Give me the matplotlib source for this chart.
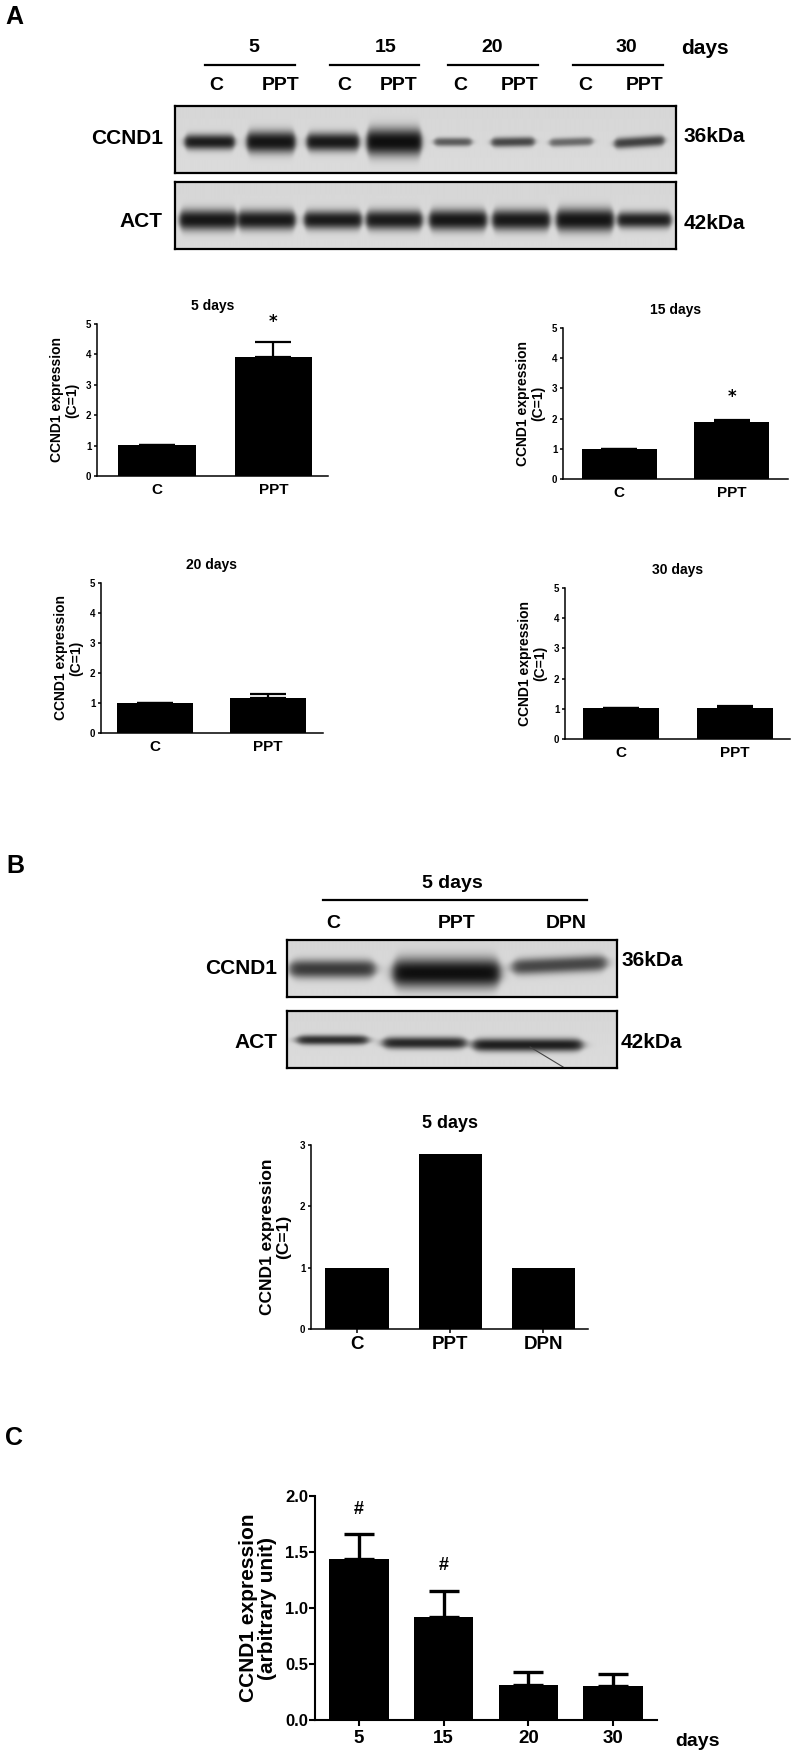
import numpy as np
import matplotlib.pyplot as plt
from matplotlib import font_manager

# ---- datos ----
# panel A: western blot (8 carriles)
dias_a = ['5', '15', '20', '30']
carriles_a = ['C', 'PPT', 'C', 'PPT', 'C', 'PPT', 'C', 'PPT']
ccnd1_a_int = [0.93, 0.97, 0.95, 1.0, 0.62, 0.72, 0.55, 0.75]
ccnd1_a_grosor = [13, 19, 16, 24, 7, 8, 7, 9]
ccnd1_a_ancho = [0.80, 0.78, 0.84, 0.88, 0.60, 0.69, 0.69, 0.80]
ccnd1_a_desp = [0.05, 0.03, 0.02, 0.0, -0.06, -0.10, -0.17, -0.08]
ccnd1_a_incl = [0, 0, 0, 0, 0, -1, -2, -4]
act_a_int = [0.96, 0.95, 0.94, 0.94, 0.96, 0.95, 0.97, 0.92]
act_a_grosor = [18, 17, 16, 17, 18, 18, 20, 14]
act_a_ancho = [0.92, 0.92, 0.92, 0.90, 0.92, 0.92, 0.92, 0.86]
act_a_desp = [0.03, -0.04, 0.02, 0.0, 0.02, 0.03, 0.05, 0.0]

# panel A: cuantificación
grupos_ab = ['C', 'PPT']
titulos_a = ['5 days', '15 days', '20 days', '30 days']
valores_a = [[1.03, 3.92], [1.0, 1.89], [1.0, 1.16], [1.03, 1.03]]
errores_a = [[0.0, 0.49], [0.0, 0.08], [0.0, 0.13], [0.0, 0.06]]
signif_a = [5.07, 2.7, None, None]

# panel B: western blot (3 carriles)
carriles_b = ['C', 'PPT', 'DPN']
ccnd1_b_int = [0.78, 1.0, 0.72]
ccnd1_b_grosor = [16, 26, 14]
ccnd1_b_ancho = [0.78, 0.98, 0.86]
ccnd1_b_desp = [-0.09, -0.05, -0.02]
ccnd1_b_y = [29, 33, 25]
ccnd1_b_incl = [0, 0, -5]
act_b_int = [0.85, 0.88, 0.92]
act_b_grosor = [8, 10, 11]
act_b_ancho = [0.65, 0.76, 1.0]
act_b_desp = [-0.09, -0.25, -0.31]
act_b_y = [29, 32, 34]

valores_b = [1.0, 2.86, 1.0]

# panel C
dias_c = ['5', '15', '20', '30']
valores_c = [1.44, 0.92, 0.31, 0.30]
errores_c = [0.22, 0.235, 0.115, 0.11]
signif_c = [1.875, 1.38, None, None]


def elegir_fuente(nombres):
    for n in nombres:
        try:
            font_manager.findfont(font_manager.FontProperties(family=n),
                                  fallback_to_default=False)
            return n
        except ValueError:
            continue
    return 'DejaVu Sans'


SANS = elegir_fuente(['Liberation Sans', 'DejaVu Sans'])

W, H = 792, 1753
fig = plt.figure(figsize=(W / 100, H / 100), dpi=100)


def ejes_px(x0, y0, x1, y1):
    return fig.add_axes([x0 / W, 1 - y1 / H, (x1 - x0) / W, (y1 - y0) / H])


capa = fig.add_axes([0, 0, 1, 1], zorder=5)
capa.set_xlim(0, W)
capa.set_ylim(H, 0)
capa.axis('off')
capa.patch.set_alpha(0)


def txt(x, y, s, size, ha='center', **kw):
    capa.text(x, y, s, fontsize=size, ha=ha, va='center', fontweight='bold',
              family=SANS, **kw)


def blot(ax, intens, grosor, ancho, desp, ycen, alto, incl=None):
    n = len(intens)
    xs = np.linspace(-0.5, n - 0.5, n * 90)
    ys = np.linspace(0, alto, alto * 3)
    X, Y = np.meshgrid(xs, ys)
    claro = np.ones_like(X)
    for i in range(n):
        c = i + desp[i]
        hw = ancho[i] / 2
        ex = 0.5 * (np.tanh((X - (c - hw)) / 0.05) - np.tanh((X - (c + hw)) / 0.05))
        ht = grosor[i] / 2 * (0.5 + 0.5 * ex) + 0.5
        yc = (ycen[i] if np.ndim(ycen) else ycen) + (incl[i] if incl else 0) * (X - c)
        gy = np.exp(-0.8 * np.abs((Y - yc) / ht) ** 2.4)
        claro *= 1 - intens[i] * ex * gy
    oscuro = 1 - claro
    fondo = 0.84 + 0.02 * (Y / alto)
    img = fondo * (1 - oscuro) + 0.06 * oscuro
    ax.imshow(img, cmap='gray', vmin=0, vmax=1, aspect='auto',
              extent=(-0.5, n - 0.5, alto, 0), interpolation='bilinear')
    ax.set_xlim(-0.5, n - 0.5)
    ax.set_ylim(alto, 0)
    ax.set_autoscale_on(False)
    ax.set_xticks([])
    ax.set_yticks([])
    for s in ax.spines.values():
        s.set_linewidth(1.6)


def barras(ax, cats, vals, errs, ymax, xlim, ancho, cap, lw=1.1, elw=1.6):
    x = np.arange(len(cats))
    ax.bar(x, vals, ancho, color='black', zorder=2)
    if errs is not None:
        ax.errorbar(x, vals, yerr=[np.zeros(len(vals)), errs], fmt='none',
                    ecolor='black', elinewidth=elw, capsize=cap, capthick=elw, zorder=1)
    ax.set_xlim(*xlim)
    ax.set_ylim(0, ymax)
    for s in ['top', 'right']:
        ax.spines[s].set_visible(False)
    ax.spines['left'].set_linewidth(lw)
    ax.spines['bottom'].set_linewidth(lw)
    ax.set_xticks(x)
    ax.tick_params(direction='out', width=lw, length=3)
    ax.set_facecolor('none')
    return x


# ================= Panel A =================
txt(14, 17, 'A', 18)
pos_dias = [254, 386, 492, 626]
lineas = [(205, 295), (330, 419), (448, 538), (573, 663)]
for d, px, (l0, l1) in zip(dias_a, pos_dias, lineas):
    txt(px, 47, d, 14)
    capa.plot([l0, l1], [65, 65], color='black', lw=1.6)
txt(681, 48, 'days', 15, ha='left')
pos_carril = [216, 281, 344, 399, 460, 520, 585, 645]
for c, px in zip(carriles_a, pos_carril):
    txt(px, 85, c, 14)
txt(163, 138, 'CCND1', 15, ha='right')
txt(162, 221, 'ACT', 15, ha='right')
txt(684, 136, '36kDa', 15, ha='left')
txt(684, 223, '42kDa', 15, ha='left')

ax = ejes_px(175, 106, 676, 173)
blot(ax, ccnd1_a_int, ccnd1_a_grosor, ccnd1_a_ancho, ccnd1_a_desp, 36, 67, ccnd1_a_incl)
ax = ejes_px(175, 182, 676, 249)
blot(ax, act_a_int, act_a_grosor, act_a_ancho, act_a_desp, 38, 67)

cajas_a = [(97, 324, 328, 476), (563, 328, 788, 479),
           (101, 583, 323, 733), (565, 588, 790, 739)]
xlims_a = [(-0.52, 1.47), (-0.5, 1.5), (-0.48, 1.49), (-0.49, 1.48)]
for k in range(4):
    x0, y0, x1, y1 = cajas_a[k]
    ax = ejes_px(x0, y0, x1, y1)
    x = barras(ax, grupos_ab, valores_a[k], errores_a[k], 5, xlims_a[k], 0.67, 13)
    ax.set_yticks(range(6))
    ax.set_yticklabels([str(v) for v in range(6)], fontsize=7, fontweight='bold', family=SANS)
    ax.set_xticklabels(grupos_ab, fontsize=11, fontweight='bold', family=SANS)
    ax.tick_params(axis='x', length=0, pad=5)
    ax.tick_params(axis='y', length=2, pad=2)
    ax.set_title(titulos_a[k], fontsize=10, fontweight='bold', family=SANS, pad=10)
    ax.set_ylabel('CCND1 expression\n(C=1)', fontsize=10, fontweight='bold',
                  family=SANS, labelpad=5, linespacing=1.05)
    if signif_a[k] is not None:
        ax.text(x[1], signif_a[k], '*', ha='center', va='center', fontsize=12,
                fontweight='bold', clip_on=False)

# ================= Panel B =================
txt(15, 866, 'B', 18)
txt(452, 883, '5 days', 14)
capa.plot([323, 587], [900, 900], color='black', lw=1.6)
for c, px in zip(carriles_b, [333, 457, 566]):
    txt(px, 923, c, 14)
txt(277, 968, 'CCND1', 15, ha='right')
txt(277, 1042, 'ACT', 15, ha='right')
txt(621, 960, '36kDa', 15, ha='left')
txt(621, 1043, '42kDa', 15, ha='left')

ax = ejes_px(287, 940, 617, 997)
blot(ax, ccnd1_b_int, ccnd1_b_grosor, ccnd1_b_ancho, ccnd1_b_desp, np.array(ccnd1_b_y), 57, ccnd1_b_incl)
ax = ejes_px(287, 1011, 617, 1068)
blot(ax, act_b_int, act_b_grosor, act_b_ancho, act_b_desp, np.array(act_b_y), 57)
ax.plot([1.71, 2.01], [36, 56], color='#444444', lw=0.8)

ax = ejes_px(311, 1145, 588, 1329)
x = barras(ax, carriles_b, valores_b, None, 3, (-0.495, 2.48), 0.68, 0)
ax.set_yticks([0, 1, 2, 3])
ax.set_yticklabels(['0', '1', '2', '3'], fontsize=7, fontweight='bold', family=SANS)
ax.set_xticklabels(carriles_b, fontsize=13.5, fontweight='bold', family=SANS)
ax.tick_params(axis='y', length=2, pad=2)
ax.tick_params(axis='x', length=3, pad=2)
ax.set_title('5 days', fontsize=13, fontweight='bold', family=SANS, pad=12)
ax.set_ylabel('CCND1 expression\n(C=1)', fontsize=12.5, fontweight='bold',
              family=SANS, labelpad=6, linespacing=1.15)

# ================= Panel C =================
txt(14, 1438, 'C', 18)
ax = ejes_px(315, 1496, 657, 1720)
x = barras(ax, dias_c, valores_c, errores_c, 2.0, (-0.52, 3.52), 0.7, 11, lw=1.5, elw=2.4)
ax.set_yticks([0, 0.5, 1.0, 1.5, 2.0])
ax.set_yticklabels(['%.1f' % v for v in [0, 0.5, 1.0, 1.5, 2.0]], fontsize=12,
                   fontweight='bold', family=SANS)
ax.set_xticklabels(dias_c, fontsize=13.5, fontweight='bold', family=SANS)
ax.tick_params(axis='y', length=4, pad=1)
ax.tick_params(axis='x', length=4, pad=3)
ax.set_ylabel('CCND1 expression\n(arbitrary unit)', fontsize=15, fontweight='bold',
              family=SANS, labelpad=6, linespacing=1.0)
for xi, s in zip(x, signif_c):
    if s is not None:
        ax.text(xi, s, '#', ha='center', va='center', fontsize=13, fontweight='bold',
                family=SANS)
txt(675, 1741, 'days', 14, ha='left')

fig.savefig('out.png', dpi=100, facecolor='white')
plt.close()
